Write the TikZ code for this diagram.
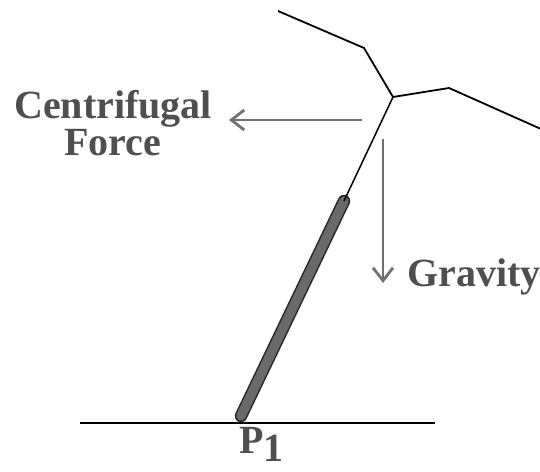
\documentclass[tikz,border=0pt]{standalone}
\usepackage{fontspec}
\setmainfont{Liberation Serif}
\usetikzlibrary{arrows.meta}
\definecolor{txtgray}{HTML}{4F4F4F}
\definecolor{rodgray}{HTML}{6A6A6A}
\definecolor{arrgray}{HTML}{707070}
\begin{document}
\begin{tikzpicture}[x=1pt,y=-1pt,
  lbl/.style={text=txtgray,font=\bfseries\fontsize{40}{32}\selectfont,inner sep=0pt},
  branch/.style={line width=1.8pt,black,line join=miter},
  force/.style={line width=1.4pt,arrgray,-{Straight Barb[length=13pt,width=20pt,line width=2.8pt]}}]
\useasboundingbox (0,0) rectangle (540,471);
% ground
\coordinate (g1) at (80,423);
\coordinate (g2) at (435,423);
\draw[line width=1.6pt] (g1) -- (g2);
% rod
\coordinate (rb) at (241,416);
\coordinate (rt) at (344,201);
\draw[line width=12.5pt,black!85,line cap=round] (rb) -- (rt);
\draw[line width=9.5pt,rodgray,line cap=round] (rb) -- (rt);
% thin line and branches
\coordinate (c) at (393,97);
\coordinate (ul1) at (278,11);
\coordinate (ul2) at (364,48);
\coordinate (r1) at (449,88);
\coordinate (r2) at (541,129);
\draw[line width=1.5pt] (rt) -- (c);
\draw[branch] (ul1) -- (ul2) -- (c) -- (r1) -- (r2);
% forces
\coordinate (cf1) at (362,120);
\coordinate (cf2) at (229,120);
\draw[force] (cf1) -- (cf2);
\coordinate (gv1) at (383,139);
\coordinate (gv2) at (383,283);
\draw[force] (gv1) -- (gv2);
% labels
\node[lbl,align=center,anchor=base] (cf) at (113,155) {Centrifugal\\Force};
\node[lbl,anchor=base west] (gr) at (407,286) {Gravity};
\node[lbl,anchor=base west] (p1) at (239,453) {P\raisebox{-8pt}{1}};
\end{tikzpicture}
\end{document}
